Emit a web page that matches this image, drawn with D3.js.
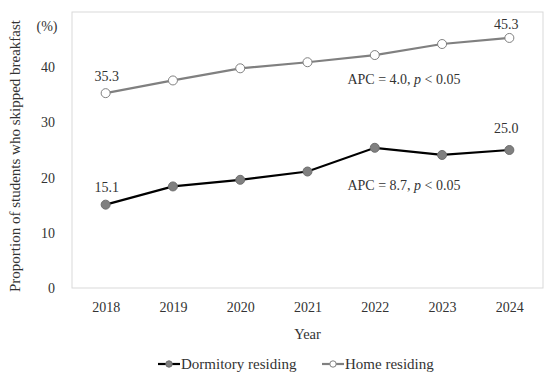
<!DOCTYPE html>
<html>
<head>
<meta charset="utf-8">
<script src="https://cdn.jsdelivr.net/npm/d3@7"></script>
<style>
  body { margin: 0; background: #fff; }
  text { font-family: "Liberation Serif", "DejaVu Serif", serif; fill: #333; }
</style>
</head>
<body>
<div id="chart-container"></div>
<script>
// chart data
let years = ["2018", "2019", "2020", "2021", "2022", "2023", "2024"];
let dormitory = [15.1, 18.4, 19.6, 21.1, 25.4, 24.1, 25.0];
let home = [35.3, 37.6, 39.8, 40.9, 42.2, 44.2, 45.3];
let yTicks = [0, 10, 20, 30, 40];

let margin = {top: 12, right: 7, bottom: 93, left: 72},
    width = 550 - margin.left - margin.right,
    height = 381 - margin.top - margin.bottom;

let svg = d3.select("#chart-container")
    .append("svg")
    .attr("width", 550)
    .attr("height", 381)
    .append("g")
    .attr("transform", "translate(" + margin.left + "," + margin.top + ")");

let x = d3.scalePoint()
    .domain(years)
    .range([0, width])
    .padding(0.5);

let y = d3.scaleLinear()
    .domain([0, 50])
    .range([height, 0]);

// frame
svg.append("rect")
    .attr("width", width)
    .attr("height", height)
    .attr("fill", "none")
    .attr("stroke", "#d9d9d9")
    .attr("stroke-width", 1);

// axes (labels only)
let yAxis = d3.axisLeft(y).tickValues(yTicks).tickSize(0).tickPadding(17);
let gy = svg.append("g").call(yAxis);
gy.select(".domain").remove();
gy.selectAll("text").style("font-size", "14px").attr("fill", "#333");

let xAxis = d3.axisBottom(x).tickSize(0).tickPadding(14);
let gx = svg.append("g").attr("transform", "translate(0," + height + ")").call(xAxis);
gx.select(".domain").remove();
gx.selectAll("text").style("font-size", "14px").attr("fill", "#333");

// axis titles
svg.append("text")
    .attr("x", -25)
    .attr("y", 19)
    .style("text-anchor", "middle")
    .style("font-size", "14px")
    .text("(%)");

svg.append("text")
    .attr("transform", "rotate(-90)")
    .attr("x", -144)
    .attr("y", -52)
    .style("text-anchor", "middle")
    .style("font-size", "15px")
    .text("Proportion of students who skipped breakfast");

svg.append("text")
    .attr("x", width / 2)
    .attr("y", height + 51)
    .style("text-anchor", "middle")
    .style("font-size", "14.5px")
    .text("Year");

// lines
let line = function(values) {
    return d3.line()
        .x(function(d, i) { return x(years[i]); })
        .y(function(d) { return y(d); })(values);
};

svg.append("path")
    .attr("d", line(home))
    .attr("fill", "none")
    .attr("stroke", "#808080")
    .attr("stroke-width", 2.2);

svg.append("path")
    .attr("d", line(dormitory))
    .attr("fill", "none")
    .attr("stroke", "#000")
    .attr("stroke-width", 2.2);

svg.selectAll("circle.home")
    .data(home)
    .enter()
    .append("circle")
    .attr("class", "home")
    .attr("cx", function(d, i) { return x(years[i]); })
    .attr("cy", function(d) { return y(d); })
    .attr("r", 4.5)
    .attr("fill", "#fff")
    .attr("stroke", "#808080")
    .attr("stroke-width", 1);

svg.selectAll("circle.dorm")
    .data(dormitory)
    .enter()
    .append("circle")
    .attr("class", "dorm")
    .attr("cx", function(d, i) { return x(years[i]); })
    .attr("cy", function(d) { return y(d); })
    .attr("r", 4.5)
    .attr("fill", "#808080")
    .attr("stroke", "#6e6e6e")
    .attr("stroke-width", 1);

// value labels at first and last points
let lastIdx = years.length - 1;
[[home, 0, -12], [home, lastIdx, -9], [dormitory, 0, -13], [dormitory, lastIdx, -17]].forEach(function(l) {
    svg.append("text")
        .attr("x", x(years[l[1]]) + (l[1] === 0 ? 1 : -3))
        .attr("y", y(l[0][l[1]]) + l[2])
        .style("text-anchor", "middle")
        .style("font-size", "14px")
        .text(l[0][l[1]].toFixed(1));
});

// APC annotations
function apc(value, cy) {
    let t = svg.append("text")
        .attr("x", 332)
        .attr("y", cy)
        .style("text-anchor", "middle")
        .style("font-size", "14px");
    t.append("tspan").text("APC = " + value + ", ");
    t.append("tspan").style("font-style", "italic").text("p");
    t.append("tspan").text(" < 0.05");
}
apc("4.0", 72);
apc("8.7", 178);

// legend
let legend = svg.append("g").attr("transform", "translate(0," + (height + 76) + ")");
let items = [
    {label: "Dormitory residing", stroke: "#000", fill: "#808080", mstroke: "#6e6e6e", x: 86},
    {label: "Home residing", stroke: "#808080", fill: "#fff", mstroke: "#808080", x: 250}
];
items.forEach(function(it) {
    legend.append("line")
        .attr("x1", it.x).attr("x2", it.x + 22)
        .attr("y1", 0).attr("y2", 0)
        .attr("stroke", it.stroke)
        .attr("stroke-width", 2.2);
    legend.append("circle")
        .attr("cx", it.x + 11).attr("cy", 0).attr("r", 3.2)
        .attr("fill", it.fill)
        .attr("stroke", it.mstroke);
    legend.append("text")
        .attr("x", it.x + 23)
        .attr("y", 5)
        .style("font-size", "15px")
        .text(it.label);
});
</script>
</body>
</html>
